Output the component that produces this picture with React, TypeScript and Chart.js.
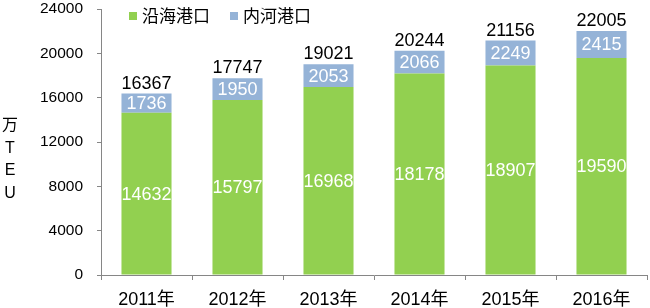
import React, { useEffect, useRef } from "react";
import { Chart, registerables } from "chart.js";

Chart.register(...registerables);

const years = ["2011年", "2012年", "2013年", "2014年", "2015年", "2016年"];
const coastal = [14632, 15797, 16968, 18178, 18907, 19590];
const inland = [1736, 1950, 2053, 2066, 2249, 2415];
const totals = [16367, 17747, 19021, 20244, 21156, 22005];
const seriesNames = ["沿海港口", "内河港口"];
const yTitleChars = ["万", "T", "E", "U"];

const GREEN = "#92D050";
const BLUE = "#95B3D7";
const FONT = "'Liberation Sans', Arial, 'Noto Sans CJK SC', sans-serif";

const labelsPlugin = {
  id: "labelsPlugin",
  afterDatasetsDraw(chart: any) {
    const ctx = chart.ctx;
    ctx.save();
    ctx.font = `18px ${FONT}`;
    ctx.textAlign = "center";
    [0, 1].forEach((di) => {
      const meta = chart.getDatasetMeta(di);
      const data = chart.data.datasets[di].data;
      meta.data.forEach((el: any, i: number) => {
        ctx.fillStyle = "#FFFFFF";
        ctx.textBaseline = "middle";
        ctx.fillText(String(data[i]), el.x, (el.y + el.base) / 2 + 1);
      });
    });
    const topMeta = chart.getDatasetMeta(1);
    topMeta.data.forEach((el: any, i: number) => {
      ctx.fillStyle = "#000000";
      ctx.textBaseline = "alphabetic";
      ctx.fillText(String(totals[i]), el.x, el.y - 5);
    });
    ctx.restore();
  },
  afterDraw(chart: any) {
    const ctx = chart.ctx;
    ctx.save();
    ctx.font = `17px ${FONT}`;
    ctx.textBaseline = "middle";
    ctx.textAlign = "left";
    const items = [
      { x: 129, color: GREEN, text: seriesNames[0] },
      { x: 230, color: BLUE, text: seriesNames[1] },
    ];
    items.forEach((it) => {
      ctx.fillStyle = it.color;
      ctx.fillRect(it.x, 12, 8, 8);
      ctx.fillStyle = "#000000";
      ctx.fillText(it.text, it.x + 13, 17);
    });
    ctx.font = `16px ${FONT}`;
    ctx.textAlign = "center";
    yTitleChars.forEach((c, i) => {
      ctx.fillText(c, 10, 126 + i * 22.5);
    });
    ctx.restore();
  },
};

export default function App() {
  const ref = useRef<HTMLCanvasElement>(null);
  useEffect(() => {
    const chart = new Chart(ref.current as HTMLCanvasElement, {
      type: "bar",
      data: {
        labels: years,
        datasets: [
          {
            label: seriesNames[0],
            data: coastal,
            backgroundColor: GREEN,
            categoryPercentage: 1,
            barPercentage: 0.55,
          },
          {
            label: seriesNames[1],
            data: inland,
            backgroundColor: BLUE,
            categoryPercentage: 1,
            barPercentage: 0.55,
          },
        ],
      },
      options: {
        animation: false,
        responsive: true,
        maintainAspectRatio: false,
        layout: { padding: { top: 9, right: 3, left: 0, bottom: 0 } },
        plugins: {
          legend: { display: false },
          tooltip: { enabled: false },
        },
        scales: {
          x: {
            stacked: true,
            grid: {
              drawOnChartArea: false,
              drawTicks: true,
              tickLength: 5,
              color: "#868686",
              offset: true,
            },
            border: { display: true, color: "#868686" },
            ticks: {
              color: "#000000",
              font: { family: FONT, size: 18 },
              padding: 9,
            },
            afterFit(scale: any) {
              scale.height = 33;
              scale.paddingLeft = 0;
              scale.paddingRight = 0;
            },
          },
          y: {
            stacked: true,
            min: 0,
            max: 24000,
            grid: {
              drawOnChartArea: false,
              drawTicks: true,
              tickLength: 4,
              color: "#868686",
            },
            border: { display: true, color: "#868686" },
            ticks: {
              stepSize: 4000,
              color: "#000000",
              font: { family: FONT, size: 15.5 },
              padding: 14,
              callback: (v: any) => String(v),
            },
            afterFit(scale: any) {
              scale.width = 101;
              scale.paddingTop = 0;
              scale.paddingBottom = 0;
            },
          },
        },
      },
      plugins: [labelsPlugin],
    });
    return () => chart.destroy();
  }, []);
  return (
    <div style={{ position: "absolute", left: 0, top: 0, width: 650, height: 308, background: "#fff" }}>
      <canvas ref={ref} />
    </div>
  );
}
